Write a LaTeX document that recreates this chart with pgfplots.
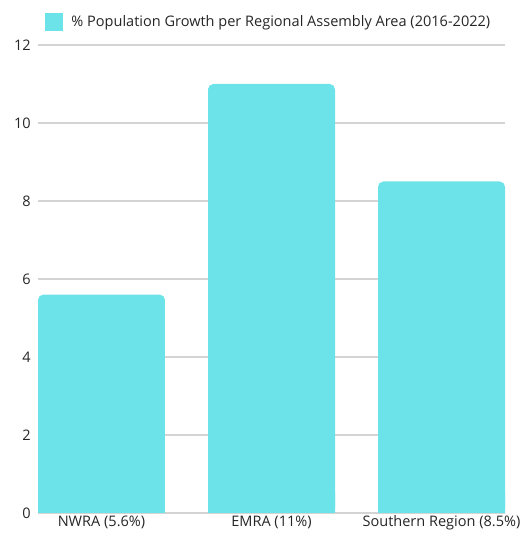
\documentclass[border=0pt]{standalone}
\usepackage{fontspec}
\setmainfont{Open Sans}
\usepackage{pgfplots}
\pgfplotsset{compat=1.18}
\definecolor{barcol}{RGB}{108,227,232}
\definecolor{gridcol}{RGB}{212,212,212}
\begin{document}
\begin{tikzpicture}
\begin{axis}[
  scale only axis,
  width=350.25pt, height=351pt,
  xmin=-0.3735, xmax=2.3735,
  ymin=0, ymax=12,
  ytick={0,2,4,6,8,10,12},
  xtick={0,1,2},
  xticklabels={NWRA (5.6\%), EMRA (11\%), Southern Region (8.5\%)},
  axis line style={draw=none},
  major tick length=0pt,
  ymajorgrids,
  grid style={gridcol, line width=0.8pt},
  /pgf/number format/assume math mode=true,
  tick label style={font=\fontsize{10.9}{13}\selectfont, text=black!85},
  yticklabel style={xshift=-2pt},
  xticklabel style={yshift=1.5pt},
  legend style={draw=none, at={(0.5,1)}, anchor=center, yshift=17.25pt, xshift=-2pt,
    font=\fontsize{10.9}{13}\selectfont, text=black!85},
  legend image code/.code={\fill[barcol, sharp corners] (0pt,-6.75pt) rectangle (13.5pt,6.75pt); \path (18pt,0pt);},
]
\addplot[ybar, bar width=0.747, bar shift=0pt, fill=barcol, draw=none, rounded corners=4pt]
  coordinates {(0,5.6) (1,11) (2,8.5)};
\addlegendentry{\% Population Growth per Regional Assembly Area (2016-2022)}
\addplot[ybar, bar width=0.747, bar shift=0pt, fill=barcol, draw=none, forget plot]
  coordinates {(0,0.5) (1,0.5) (2,0.5)};
\end{axis}
\pgfresetboundingbox
\path (current axis.south west) ++(-28.5pt,-15.75pt) rectangle ++(390pt,400.5pt);
\end{tikzpicture}
\end{document}
